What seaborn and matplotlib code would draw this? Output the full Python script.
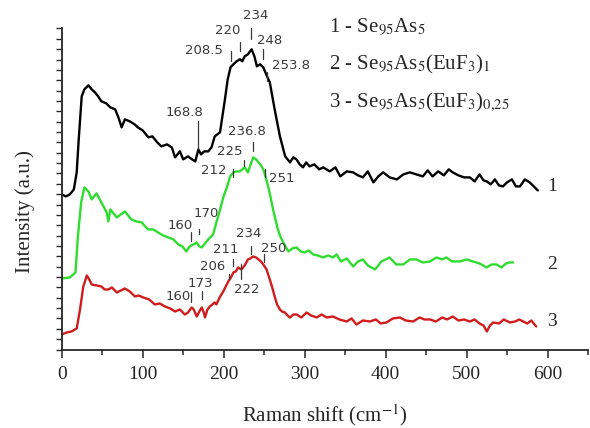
import numpy as np
import matplotlib
matplotlib.use("Agg")
import matplotlib.pyplot as plt
import seaborn as sns

# Raman spectra (x in cm-1, intensity in arbitrary units)
x1 = [0, 5, 10, 15, 18.5, 21, 24.7, 28, 33, 37,
      41, 45, 49, 55, 60, 66, 70, 74, 78, 84,
      90, 94, 100, 107, 112, 118, 123, 130, 136, 140,
      146, 150, 156, 161, 165, 168.8, 172, 176, 181, 185,
      189, 195.5, 201.6, 205, 208.5, 212, 216, 220, 223, 226,
      230, 234.5, 238, 241, 245, 249, 253, 257, 263, 269.5,
      276, 282, 286, 290, 294, 298, 302, 306, 312, 318,
      323, 331, 338, 344, 352, 360, 366, 372, 378, 385,
      391, 397, 405, 414, 422, 430, 438, 446, 452, 458,
      465, 472, 478, 483, 490, 497, 504, 510, 516, 521,
      525, 530, 535, 540, 545, 550, 556, 561, 566, 572,
      578, 583, 588]
y1 = [155, 153, 155, 160, 177, 210, 253, 260, 264, 260,
      257, 253, 248, 246, 242, 240, 232, 222, 230, 228,
      225, 222, 219, 212, 213, 207, 203, 205, 202, 192,
      198, 190, 193, 190, 188, 200, 195, 198, 198, 202,
      213, 217, 250, 270, 282, 285, 288, 290, 288, 293,
      295, 300, 293, 283, 285, 282, 274, 267, 240, 213,
      193, 187, 192, 190, 185, 182, 187, 183, 185, 180,
      182, 178, 182, 173, 178, 177, 174, 172, 178, 167,
      173, 177, 172, 170, 175, 177, 175, 173, 179, 173,
      178, 174, 180, 177, 174, 172, 172, 168, 175, 169,
      168, 165, 170, 164, 163, 167, 170, 163, 163, 170,
      167, 163, 159]

x2 = [0, 10, 17, 20, 24, 28, 33, 37, 43, 49,
      55.5, 57.6, 60, 64, 68, 73, 78, 82, 86, 92,
      99, 103, 107, 113, 119, 125, 131.6, 138, 144, 149,
      154, 157, 160, 163, 166.7, 170, 173, 177, 181, 187,
      191, 195, 199.5, 204, 208, 212, 216, 220, 223, 226,
      230, 233, 236.5, 240, 243, 246, 249, 252, 255, 258,
      261, 264, 267, 270, 273.6, 277, 280, 285, 290, 295,
      300, 305, 310.6, 316, 323, 329, 335, 339.5, 345, 352,
      360, 366, 372, 378, 387, 395, 405, 413, 422, 430,
      438, 446, 455, 463, 470, 475, 482, 492, 500, 508,
      516, 525, 531, 537, 543, 549, 553, 557.5]
y2 = [71, 72, 77, 113, 147, 162, 158, 150, 156, 147,
      137, 128, 140, 136, 132, 135, 138, 134, 130, 128,
      127, 123, 120, 120, 117, 114, 112, 110, 105, 103,
      98, 102, 104, 105, 107, 103, 102, 106, 110, 115,
      127, 138, 152, 162, 173, 177, 178, 178, 180, 182,
      177, 184, 192, 190, 187, 184, 180, 172, 163, 152,
      140, 130, 120, 113, 107, 102, 98, 101, 102, 98,
      97, 99, 95, 94, 92, 94, 92, 95, 88, 91,
      83, 88, 90, 84, 80, 88, 92, 85, 85, 90,
      90, 87, 88, 92, 90, 92, 88, 88, 90, 88,
      86, 82, 85, 85, 82, 86, 87, 87]

x3 = [0, 6, 12, 18.5, 22.6, 26.7, 31, 34, 37, 43,
      49, 53, 57.6, 62, 68, 73, 78, 84, 90.5, 95,
      100.7, 108, 115, 121, 127.5, 134, 140, 146, 152, 156,
      160.5, 163, 166.7, 170, 173, 175, 177, 180, 183, 186,
      189, 191, 195, 199.5, 202, 205.7, 209, 212, 215, 218,
      222, 226, 230, 233, 236.5, 240, 243, 246, 249, 253,
      257, 260, 263, 266, 269.5, 272, 275.7, 279, 282, 286,
      290, 296, 302.5, 308, 315, 321, 327, 335, 343, 352,
      358, 364, 372, 380.6, 388, 394, 401, 409, 417.6, 425,
      434, 442, 448, 455, 462, 470, 476, 483, 490, 497,
      504, 510, 516, 521, 525, 529, 533, 540, 546, 553.5,
      560, 565, 570, 575, 580, 586]
y3 = [15, 17, 18, 21, 40, 63, 74, 70, 65, 64,
      63, 60, 60, 62, 57, 59, 61, 58, 53, 54,
      52, 50, 45, 46, 43, 41, 38, 40, 35, 37,
      42, 40, 33, 38, 42, 38, 32, 40, 43, 45,
      47, 45, 52, 58, 62, 68, 72, 77, 78, 82,
      80, 84, 90, 91, 93, 92, 90, 88, 85, 80,
      70, 62, 53, 45, 40, 38, 37, 34, 32, 35,
      35, 32, 37, 34, 32, 35, 32, 33, 30, 28,
      31, 25, 29, 28, 30, 26, 27, 31, 32, 29,
      28, 32, 30, 30, 28, 32, 30, 33, 29, 30,
      28, 30, 26, 24, 18, 24, 27, 26, 30, 27,
      28, 30, 28, 26, 29, 23]

legend_labels = [r"1 - Se$_{95}$As$_{5}$",
                 r"2 - Se$_{95}$As$_{5}$(EuF$_{3}$)$_{1}$",
                 r"3 - Se$_{95}$As$_{5}$(EuF$_{3}$)$_{0{,}25}$"]
curve_ids = ["1", "2", "3"]
colors = ["black", "#2fdc2f", "#d01c1c"]

# peak marks: label, position, tick from/to, text x, text y, alignment
peaks = [
    ("168.8", 168.8, 200, 228, 152, 230, "center"),
    ("208.5", 208.5, 288, 298, 199, 292, "right"),
    ("220", 220, 298, 307, 205, 312, "center"),
    ("234", 234, 310, 322, 239, 327, "center"),
    ("248", 248, 290, 300, 257, 302, "center"),
    ("253.8", 253.8, 268, 277, 260, 277, "left"),
    ("236.8", 236.8, 198, 207, 229, 211, "center"),
    ("225", 225, 183, 189, 208, 191, "center"),
    ("212", 212, 172, 180, 188, 172, "center"),
    ("251", 251, 172, 180, 272, 164, "center"),
    ("160", 160, 108, 117, 146, 117, "center"),
    ("170", 170, 115, 120, 179, 129, "center"),
    ("160", 160, 47, 57, 144, 46, "center"),
    ("173", 173, 50, 58, 171, 59, "center"),
    ("206", 206, 70, 75, 186, 76, "center"),
    ("211", 211, 83, 90, 203, 93, "center"),
    ("222", 222, 70, 85, 228, 53, "center"),
    ("234", 234, 95, 103, 231, 109, "center"),
    ("250", 250, 87, 95, 262, 94, "center"),
]

sns.set_style("ticks")
plt.rcParams['font.family'] = 'serif'
plt.rcParams['font.serif'] = ['Liberation Serif', 'DejaVu Serif']
plt.rcParams['mathtext.fontset'] = 'stix'

fig = plt.figure(figsize=(5.9, 4.28), dpi=100)
ax = fig.add_axes([0.1046, 0.1834, 0.892, 0.7505])

for xs, ys, c in zip([x1, x2, x3], [y1, y2, y3], colors):
    sns.lineplot(x=xs, y=ys, color=c, lw=1.7, sort=False, estimator=None, ax=ax)

for lab, px, y0, y1_, tx, ty, ha in peaks:
    ax.plot([px, px], [y0, y1_], color='#3a3a3a', lw=0.9)
    ax.text(tx, ty, lab, ha=ha, va='bottom', fontsize=9.5, color='#3a3a3a',
            family='DejaVu Sans', clip_on=False)

for cid, yy in zip(curve_ids, [163, 85, 28]):
    ax.text(606, yy, cid, ha='center', va='center', fontsize=14)

for lab, yy in zip(legend_labels, [318, 280, 242]):
    ax.text(330, yy, lab, ha='left', va='baseline', fontsize=15)

ax.set_xlim(0, 650)
ax.set_ylim(0, 321)
ax.set_xticks([0, 100, 200, 300, 400, 500, 600])
ax.set_xticks([50, 150, 250, 350, 450, 550, 650], minor=True)
ax.set_yticks(np.arange(0, 322, 10.35))
ax.set_yticklabels([])
ax.tick_params(axis='x', which='major', length=6, width=1.1, labelsize=14, pad=6)
ax.tick_params(axis='x', which='minor', length=3.5, width=1.1)
ax.tick_params(axis='y', length=4.5, width=1.0)
sns.despine(ax=ax)
for s in ['left', 'bottom']:
    ax.spines[s].set_linewidth(1.3)

ax.set_xlabel(r"Raman shift (cm$^{-1}$)", fontsize=15)
ax.set_ylabel("Intensity (a.u.)", fontsize=15)
ax.xaxis.set_label_coords(0.5, -0.165)
ax.yaxis.set_label_coords(-0.05, 0.43)

fig.savefig("out.png", dpi=100)
